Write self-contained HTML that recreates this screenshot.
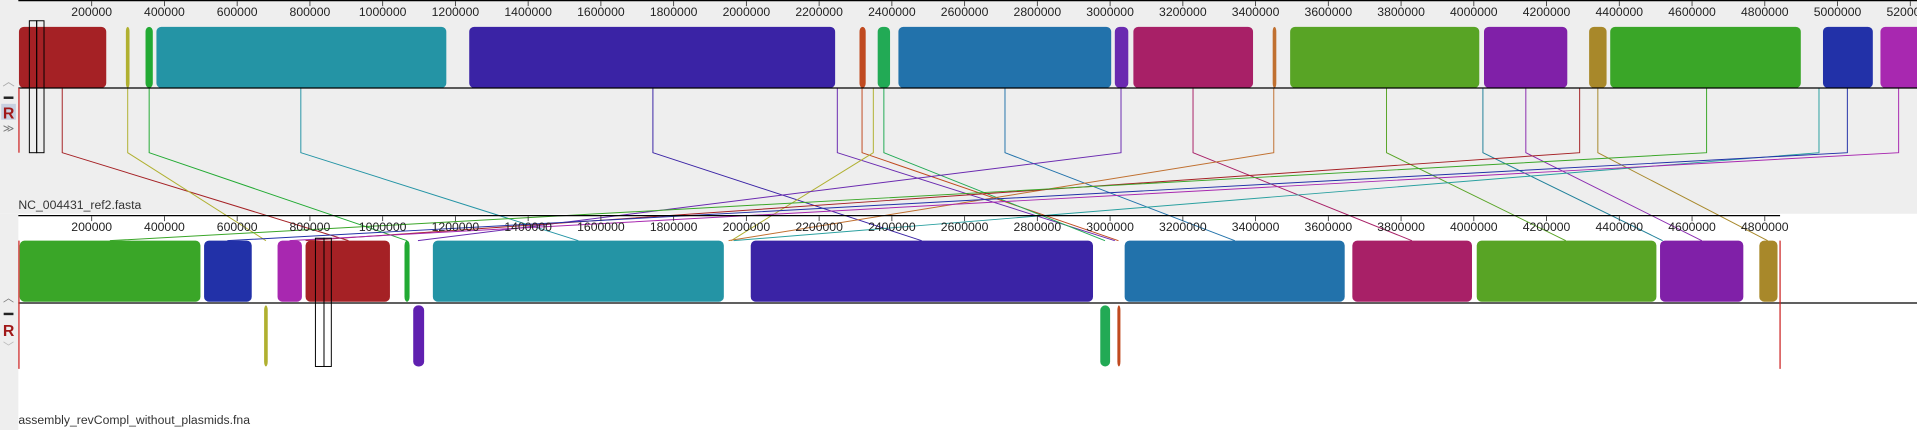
<!DOCTYPE html>
<html><head><meta charset="utf-8"><style>
html,body{margin:0;padding:0;background:#fff;overflow:hidden}
svg{display:block}
text{font-family:"Liberation Sans",sans-serif}
</style></head><body>
<svg id="chart" width="1917" height="430" viewBox="0 0 1568 352" preserveAspectRatio="none" xmlns="http://www.w3.org/2000/svg">
<rect x="0" y="0" width="1568" height="352" fill="#ffffff"/>
<rect x="0" y="0" width="1568" height="175" fill="#eeeeee"/>
<rect x="0" y="175" width="15" height="177" fill="#eeeeee"/>
<g id="lines"></g>
<g id="blocks"></g>
<g id="rulers"></g>
<g>
<text x="7" y="70" font-size="10" fill="#aaa" text-anchor="middle">︿</text>
<rect x="3" y="79" width="8" height="2" fill="#222"/>
<rect x="1" y="85" width="12" height="13" fill="#c8d0e0"/>
<text x="7" y="97" font-size="13" font-weight="bold" fill="#a01818" text-anchor="middle">R</text>
<text x="7" y="108" font-size="9" fill="#777" text-anchor="middle">≫</text>
</g>
<g>
<text x="7" y="247" font-size="9" fill="#777" text-anchor="middle">︿</text>
<rect x="3" y="256" width="8" height="2" fill="#222"/>
<text x="7" y="275" font-size="13" font-weight="bold" fill="#a01818" text-anchor="middle">R</text>
<text x="7" y="287" font-size="9" fill="#bbb" text-anchor="middle">﹀</text>
</g>
<text x="15" y="171" font-size="10" fill="#333">NC_004431_ref2.fasta</text>
<text x="15" y="347" font-size="10" fill="#333">assembly_revCompl_without_plasmids.fna</text>
</svg>
<script>
// ---- data (kb) ----
var topBlockStarts=[0,294,348,378,1238,2311,2361,2418,3013,3064,3447,3495,4028,4317,4375,4960,5118];
var topBlockEnds=[240,304,368,1175,2244,2328,2395,3003,3050,3393,3457,4015,4257,4365,4899,5097,5240];
var topBlockColors=["#a52125","#b0b030","#22aa33","#2494a5","#3a23a5","#c04a20","#22aa55","#2272ab","#6a2ab0","#a82067","#c07030","#58a425","#8020a8","#a8882a","#3aa628","#2231a8","#a828b0"];
var botFwdStarts=[2,509,711,788,1060,1138,2012,3040,3666,4008,4512,4785];
var botFwdEnds=[499,640,778,1020,1074,1938,2953,3645,3995,4502,4741,4835];
var botFwdColors=["#3aa628","#2231a8","#a828b0","#a52125","#22aa33","#2494a5","#3a23a5","#2272ab","#a82067","#58a425","#8020a8","#a8882a"];
var botRevStarts=[674,1084,2973,3020];
var botRevEnds=[684,1114,3000,3027];
var botRevColors=["#b0b030","#6020b0","#22aa55","#c04a20"];
var linkTop=[119,299,358,775,1743,2250,2318,2349,2378,2711,3030,3228,3450,3760,4025,4143,4291,4341,4640,4949,5027,5168];
var linkBottom=[906,679,1067,1538,2482,3013,3023,1958,2986,3343,1097,3830,1951,4253,4519,4627,788,4808,250,1965,573,744];
var linkColors=["#a52125","#b0b030","#22aa33","#2494a5","#3a23a5","#6a2ab0","#c04a20","#b0b030","#22aa55","#2272ab","#6a2ab0","#a82067","#c07030","#58a425","#20809a","#8a2ab0","#a52125","#a8882a","#3aa628","#2aa0a0","#2231a8","#a828b0"];
var topTicks=[200,400,600,800,1000,1200,1400,1600,1800,2000,2200,2400,2600,2800,3000,3200,3400,3600,3800,4000,4200,4400,4600,4800,5000,5200];
var botTicks=[200,400,600,800,1000,1200,1400,1600,1800,2000,2200,2400,2600,2800,3000,3200,3400,3600,3800,4000,4200,4400,4600,4800];
var bottomGenomeLength=4842;
// ---- axes ----
function x(kb){return 15.5+kb*0.2975;}
var NS="http://www.w3.org/2000/svg";
function mk(tag,attrs,parent){var e=document.createElementNS(NS,tag);for(var k in attrs)e.setAttribute(k,attrs[k]);parent.appendChild(e);return e;}
var L=document.getElementById('lines'),B=document.getElementById('blocks'),R=document.getElementById('rulers');
// blocks
function block(s,e,c,y0,y1,name){
  var w=Math.max(x(e)-x(s),2.5);
  var r=mk('rect',{x:x(s),y:y0,width:w,height:y1-y0,rx:Math.min(4,w/2),ry:4,fill:c},B);
  
  
}
topBlockStarts.forEach(function(s,i){block(s,Math.min(topBlockEnds[i],5240),topBlockColors[i],22,72,'top-block-'+(i+1));});
botFwdStarts.forEach(function(s,i){block(s,botFwdEnds[i],botFwdColors[i],197,247,'bottom-forward-block-'+(i+1));});
botRevStarts.forEach(function(s,i){block(s,botRevEnds[i],botRevColors[i],250,300,'bottom-reverse-block-'+(i+1));});
// center lines
var c1=mk('line',{x1:15,y1:72,x2:1568,y2:72,stroke:'#000','stroke-width':1},B);


var c2=mk('line',{x1:15,y1:248,x2:1568,y2:248,stroke:'#000','stroke-width':1},B);


// genome end markers
var m1=mk('line',{x1:15.5,y1:72,x2:15.5,y2:125,stroke:'#cc2020','stroke-width':1},B);


var m2=mk('line',{x1:15.5,y1:197,x2:15.5,y2:302,stroke:'#cc2020','stroke-width':1},B);


var m3=mk('line',{x1:x(bottomGenomeLength),y1:197,x2:x(bottomGenomeLength),y2:302,stroke:'#cc2020','stroke-width':1},B);


// links
linkTop.forEach(function(t,i){
  var xt=x(t),xb=x(linkBottom[i]);
  var p=mk('polyline',{points:xt+',72 '+xt+',125 '+xb+',197',fill:'none',stroke:linkColors[i],'stroke-width':0.8},L);
  
  
});
// selection cursors
[[24,30],[30,36]].forEach(function(a,i){
  var r=mk('rect',{x:a[0],y:17,width:a[1]-a[0],height:108,fill:'none',stroke:'#000','stroke-width':0.8},B);
  
  
});
[[258,265],[265,271]].forEach(function(a,i){
  var r=mk('rect',{x:a[0],y:195,width:a[1]-a[0],height:105,fill:'none',stroke:'#000','stroke-width':0.8},B);
  
  
});
// rulers
var r1=mk('line',{x1:15,y1:0.5,x2:1568,y2:0.5,stroke:'#000','stroke-width':1},R);


var r2=mk('line',{x1:15,y1:176.5,x2:x(bottomGenomeLength),y2:176.5,stroke:'#000','stroke-width':1},R);


function ticks(arr,y0,pre){
  arr.forEach(function(v){
    var tx=x(v);
    var tk=mk('line',{x1:tx,y1:y0+1,x2:tx,y2:y0+5,stroke:'#333','stroke-width':0.7},R);
    
    
    var t=mk('text',{x:tx,y:y0+13,'font-size':10,fill:'#222','text-anchor':'middle'},R);
    t.textContent=String(v*1000);
    
    
  });
}
ticks(topTicks,0,'top-axis');
ticks(botTicks,176,'bottom-axis');
</script>
</body></html>
